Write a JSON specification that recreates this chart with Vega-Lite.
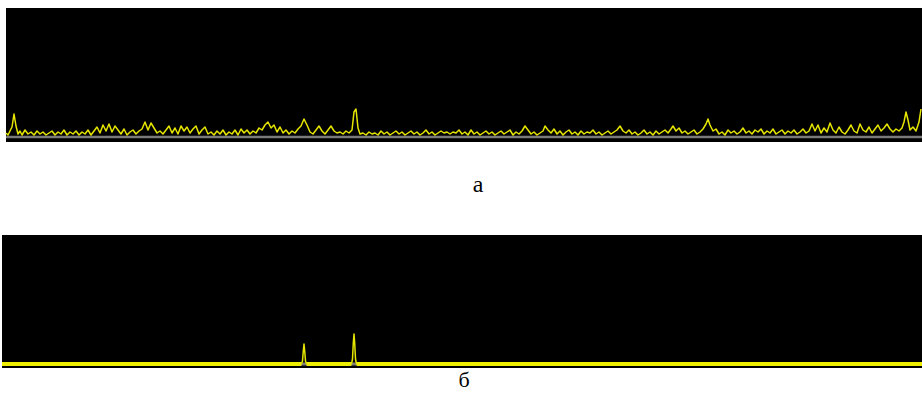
{
  "$schema": "https://vega.github.io/schema/vega-lite/v6.json",
  "padding": {"left": 2, "top": 8, "right": 0, "bottom": 0},
  "background": "white",
  "spacing": 38,
  "config": {"view": {"fill": "#000000", "stroke": null}},
  "datasets": {
    "top": [
      {"x":6,"v":9},{"x":8,"v":7},{"x":10,"v":11},{"x":12,"v":15},{"x":14,"v":28},{"x":16,"v":16},{"x":18,"v":8},{"x":20,"v":11},{"x":22,"v":7},{"x":25,"v":12},{"x":28,"v":8},{"x":31,"v":10},{"x":34,"v":7},{"x":37,"v":11},{"x":40,"v":8},{"x":43,"v":10},{"x":46,"v":7},{"x":49,"v":9},{"x":52,"v":11},{"x":55,"v":7},{"x":58,"v":10},{"x":61,"v":8},{"x":64,"v":12},{"x":67,"v":7},{"x":70,"v":10},{"x":73,"v":8},{"x":76,"v":11},{"x":79,"v":7},{"x":82,"v":10},{"x":85,"v":8},{"x":88,"v":12},{"x":91,"v":7},{"x":94,"v":11},{"x":97,"v":15},{"x":100,"v":9},{"x":103,"v":17},{"x":106,"v":11},{"x":109,"v":18},{"x":112,"v":10},{"x":115,"v":16},{"x":118,"v":12},{"x":121,"v":8},{"x":124,"v":13},{"x":127,"v":7},{"x":130,"v":10},{"x":133,"v":12},{"x":136,"v":8},{"x":139,"v":11},{"x":142,"v":13},{"x":145,"v":20},{"x":148,"v":12},{"x":151,"v":19},{"x":154,"v":14},{"x":157,"v":9},{"x":160,"v":11},{"x":163,"v":8},{"x":166,"v":12},{"x":169,"v":16},{"x":172,"v":9},{"x":175,"v":14},{"x":178,"v":8},{"x":181,"v":16},{"x":184,"v":11},{"x":187,"v":15},{"x":190,"v":9},{"x":193,"v":13},{"x":196,"v":16},{"x":199,"v":8},{"x":202,"v":12},{"x":205,"v":15},{"x":208,"v":8},{"x":211,"v":10},{"x":214,"v":7},{"x":217,"v":11},{"x":220,"v":8},{"x":223,"v":12},{"x":226,"v":7},{"x":229,"v":10},{"x":232,"v":8},{"x":235,"v":12},{"x":238,"v":7},{"x":241,"v":13},{"x":244,"v":9},{"x":247,"v":12},{"x":250,"v":8},{"x":253,"v":11},{"x":256,"v":9},{"x":259,"v":14},{"x":262,"v":12},{"x":265,"v":17},{"x":268,"v":20},{"x":271,"v":14},{"x":274,"v":17},{"x":277,"v":10},{"x":280,"v":15},{"x":283,"v":9},{"x":286,"v":12},{"x":289,"v":8},{"x":292,"v":11},{"x":295,"v":9},{"x":298,"v":13},{"x":301,"v":16},{"x":304,"v":23},{"x":307,"v":17},{"x":310,"v":10},{"x":313,"v":8},{"x":316,"v":12},{"x":319,"v":16},{"x":322,"v":11},{"x":325,"v":8},{"x":328,"v":12},{"x":331,"v":16},{"x":334,"v":11},{"x":337,"v":9},{"x":340,"v":10},{"x":343,"v":8},{"x":346,"v":11},{"x":349,"v":9},{"x":352,"v":12},{"x":354,"v":30},{"x":356,"v":33},{"x":358,"v":14},{"x":360,"v":8},{"x":363,"v":9},{"x":366,"v":7},{"x":369,"v":10},{"x":372,"v":8},{"x":375,"v":9},{"x":378,"v":7},{"x":381,"v":11},{"x":384,"v":8},{"x":387,"v":10},{"x":390,"v":7},{"x":393,"v":9},{"x":396,"v":11},{"x":399,"v":8},{"x":402,"v":10},{"x":405,"v":7},{"x":408,"v":9},{"x":411,"v":11},{"x":414,"v":8},{"x":417,"v":10},{"x":420,"v":7},{"x":423,"v":9},{"x":426,"v":12},{"x":429,"v":8},{"x":432,"v":10},{"x":435,"v":7},{"x":438,"v":9},{"x":441,"v":11},{"x":444,"v":9},{"x":447,"v":10},{"x":450,"v":8},{"x":453,"v":10},{"x":456,"v":9},{"x":459,"v":12},{"x":462,"v":8},{"x":465,"v":10},{"x":468,"v":7},{"x":471,"v":12},{"x":474,"v":8},{"x":477,"v":10},{"x":480,"v":7},{"x":483,"v":9},{"x":486,"v":11},{"x":489,"v":8},{"x":492,"v":10},{"x":495,"v":7},{"x":498,"v":9},{"x":501,"v":11},{"x":504,"v":8},{"x":507,"v":10},{"x":510,"v":12},{"x":513,"v":7},{"x":516,"v":10},{"x":519,"v":8},{"x":522,"v":11},{"x":525,"v":16},{"x":528,"v":12},{"x":531,"v":8},{"x":534,"v":10},{"x":537,"v":7},{"x":540,"v":9},{"x":543,"v":11},{"x":545,"v":16},{"x":548,"v":12},{"x":551,"v":9},{"x":554,"v":13},{"x":557,"v":8},{"x":560,"v":11},{"x":563,"v":7},{"x":566,"v":10},{"x":569,"v":12},{"x":572,"v":8},{"x":575,"v":10},{"x":578,"v":7},{"x":581,"v":11},{"x":584,"v":8},{"x":587,"v":10},{"x":590,"v":9},{"x":593,"v":12},{"x":596,"v":8},{"x":599,"v":10},{"x":602,"v":7},{"x":605,"v":9},{"x":608,"v":11},{"x":611,"v":8},{"x":614,"v":10},{"x":617,"v":12},{"x":620,"v":16},{"x":623,"v":11},{"x":626,"v":9},{"x":629,"v":12},{"x":632,"v":8},{"x":635,"v":10},{"x":638,"v":7},{"x":641,"v":9},{"x":644,"v":12},{"x":647,"v":8},{"x":650,"v":10},{"x":653,"v":7},{"x":656,"v":11},{"x":659,"v":8},{"x":662,"v":10},{"x":665,"v":12},{"x":668,"v":9},{"x":671,"v":13},{"x":673,"v":16},{"x":676,"v":11},{"x":679,"v":14},{"x":682,"v":9},{"x":685,"v":11},{"x":688,"v":8},{"x":691,"v":10},{"x":694,"v":12},{"x":697,"v":8},{"x":700,"v":10},{"x":703,"v":13},{"x":706,"v":18},{"x":708,"v":23},{"x":710,"v":17},{"x":713,"v":11},{"x":716,"v":13},{"x":719,"v":8},{"x":722,"v":10},{"x":725,"v":7},{"x":728,"v":12},{"x":731,"v":9},{"x":734,"v":11},{"x":737,"v":8},{"x":740,"v":10},{"x":743,"v":14},{"x":746,"v":9},{"x":749,"v":11},{"x":752,"v":8},{"x":755,"v":12},{"x":758,"v":10},{"x":761,"v":13},{"x":764,"v":8},{"x":767,"v":11},{"x":770,"v":9},{"x":773,"v":13},{"x":776,"v":8},{"x":779,"v":10},{"x":782,"v":12},{"x":785,"v":8},{"x":788,"v":11},{"x":791,"v":9},{"x":794,"v":12},{"x":797,"v":8},{"x":800,"v":10},{"x":803,"v":13},{"x":806,"v":9},{"x":809,"v":11},{"x":812,"v":18},{"x":815,"v":11},{"x":818,"v":17},{"x":821,"v":9},{"x":824,"v":14},{"x":827,"v":10},{"x":830,"v":19},{"x":833,"v":12},{"x":836,"v":9},{"x":839,"v":15},{"x":842,"v":10},{"x":845,"v":8},{"x":848,"v":12},{"x":851,"v":17},{"x":854,"v":11},{"x":857,"v":9},{"x":860,"v":18},{"x":863,"v":12},{"x":866,"v":10},{"x":869,"v":15},{"x":872,"v":9},{"x":875,"v":13},{"x":878,"v":17},{"x":881,"v":11},{"x":884,"v":14},{"x":887,"v":18},{"x":890,"v":13},{"x":893,"v":10},{"x":896,"v":13},{"x":899,"v":11},{"x":902,"v":14},{"x":904,"v":20},{"x":906,"v":30},{"x":908,"v":22},{"x":910,"v":12},{"x":913,"v":15},{"x":916,"v":11},{"x":919,"v":20},{"x":921,"v":33}
    ],
    "screenTop": [{"x0": 6, "x1": 922, "y0": 0, "y1": 134}],
    "baseTop": [{"x0": 6, "x1": 922, "v": 5}],
    "baseBottom": [{"v": 4}],
    "flat": [
      {"x":2,"v":4,"s":"a"},{"x":301.5,"v":4,"s":"a"},
      {"x":306.5,"v":4,"s":"b"},{"x":351.5,"v":4,"s":"b"},
      {"x":356.5,"v":4,"s":"c"},{"x":922,"v":4,"s":"c"}
    ],
    "peaks": [
      {"x":301.5,"v":4,"s":"p1"},{"x":302.5,"v":7,"s":"p1"},{"x":303.3,"v":17,"s":"p1"},{"x":304,"v":24,"s":"p1"},{"x":304.7,"v":17,"s":"p1"},{"x":305.5,"v":7,"s":"p1"},{"x":306.5,"v":4,"s":"p1"},
      {"x":351.5,"v":4,"s":"p2"},{"x":352.5,"v":9,"s":"p2"},{"x":353.3,"v":25,"s":"p2"},{"x":354,"v":34,"s":"p2"},{"x":354.7,"v":25,"s":"p2"},{"x":355.5,"v":9,"s":"p2"},{"x":356.5,"v":4,"s":"p2"}
    ]
  },
  "vconcat": [
    {
      "width": 920,
      "height": 134,
      "view": {"fill": null, "stroke": null},
      "title": {"text": "а", "orient": "bottom", "font": "Liberation Serif", "fontSize": 24, "fontWeight": "normal", "color": "#000000", "baseline": "alphabetic", "offset": 50, "dx": 16},
      "layer": [
        {
          "data": {"name": "screenTop"},
          "mark": {"type": "rect", "color": "#000000"},
          "encoding": {
            "x": {"field": "x0", "type": "quantitative", "scale": {"domain": [2, 922], "nice": false, "zero": false}, "axis": null},
            "x2": {"field": "x1"},
            "y": {"field": "y0", "type": "quantitative", "scale": {"domain": [0, 134]}, "axis": null},
            "y2": {"field": "y1"}
          }
        },
        {
          "data": {"name": "baseTop"},
          "mark": {"type": "rule", "color": "#7a7a7a", "strokeWidth": 2.5, "clip": true},
          "encoding": {
            "x": {"field": "x0", "type": "quantitative", "scale": {"domain": [2, 922], "nice": false, "zero": false}, "axis": null},
            "x2": {"field": "x1"},
            "y": {"field": "v", "type": "quantitative", "scale": {"domain": [0, 134]}, "axis": null}
          }
        },
        {
          "data": {"name": "top"},
          "mark": {"type": "line", "color": "#e6e600", "strokeWidth": 1.5, "strokeJoin": "round", "clip": true},
          "encoding": {
            "x": {"field": "x", "type": "quantitative", "scale": {"domain": [2, 922], "nice": false, "zero": false}, "axis": null},
            "y": {"field": "v", "type": "quantitative", "scale": {"domain": [0, 134]}, "axis": null}
          }
        }
      ]
    },
    {
      "width": 920,
      "height": 133,
      "title": {"text": "б", "orient": "bottom", "font": "Liberation Serif", "fontSize": 22, "fontWeight": "normal", "color": "#000000", "baseline": "alphabetic", "offset": 19, "dx": 2},
      "layer": [
        {
          "data": {"name": "baseBottom"},
          "mark": {"type": "rule", "color": "#7a7a7a", "strokeWidth": 3, "clip": true},
          "encoding": {
            "y": {"field": "v", "type": "quantitative", "scale": {"domain": [0, 133]}, "axis": null}
          }
        },
        {
          "data": {"name": "flat"},
          "mark": {"type": "line", "color": "#eeee00", "strokeWidth": 4, "strokeJoin": "round", "clip": true},
          "encoding": {
            "x": {"field": "x", "type": "quantitative", "scale": {"domain": [2, 922], "nice": false, "zero": false}, "axis": null},
            "y": {"field": "v", "type": "quantitative", "scale": {"domain": [0, 133]}, "axis": null},
            "detail": {"field": "s"}
          }
        },
        {
          "data": {"name": "peaks"},
          "mark": {"type": "line", "color": "#e6e600", "strokeWidth": 1.5, "strokeJoin": "round", "clip": true},
          "encoding": {
            "x": {"field": "x", "type": "quantitative", "scale": {"domain": [2, 922], "nice": false, "zero": false}, "axis": null},
            "y": {"field": "v", "type": "quantitative", "scale": {"domain": [0, 133]}, "axis": null},
            "detail": {"field": "s"}
          }
        }
      ]
    }
  ]
}
